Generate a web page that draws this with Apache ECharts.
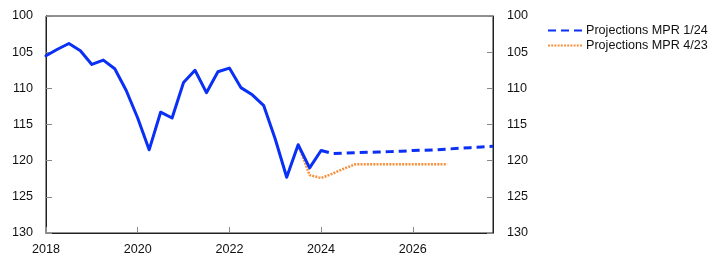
<!DOCTYPE html>
<html>
<head>
<meta charset="utf-8">
<script src="https://cdn.jsdelivr.net/npm/echarts@6/dist/echarts.min.js"></script>
<style>html,body{margin:0;padding:0;background:#fff}#c{width:722px;height:272px}</style>
</head>
<body>
<div id="c"></div>
<script>
// Historical series (quarterly)
var histQuarters = ["2018Q1","2018Q2","2018Q3","2018Q4","2019Q1","2019Q2","2019Q3","2019Q4",
  "2020Q1","2020Q2","2020Q3","2020Q4","2021Q1","2021Q2","2021Q3","2021Q4",
  "2022Q1","2022Q2","2022Q3","2022Q4","2023Q1","2023Q2","2023Q3","2023Q4","2024Q1"];
var histValues = [105.5,104.6,103.8,104.8,106.7,106.1,107.3,110.3,
  114.1,118.5,113.3,114.1,109.2,107.5,110.6,107.7,
  107.2,109.9,110.9,112.4,117.0,122.3,117.8,121.0,118.6];

// Projections MPR 1/24
var mpr124Quarters = ["2024Q1","2024Q2","2024Q3","2024Q4","2025Q1","2025Q2","2025Q3","2025Q4",
  "2026Q1","2026Q2","2026Q3","2026Q4","2027Q1","2027Q2","2027Q3","2027Q4"];
var mpr124Values = [118.6,119.0,118.95,118.9,118.85,118.8,118.75,118.7,
  118.6,118.55,118.5,118.4,118.3,118.2,118.1,118.0];

// Projections MPR 4/23
var mpr423Quarters = ["2023Q3","2023Q4","2024Q1","2024Q2","2024Q3","2024Q4","2025Q1","2025Q2","2025Q3","2025Q4",
  "2026Q1","2026Q2","2026Q3","2026Q4"];
var mpr423Values = [117.8,122.0,122.4,121.8,121.1,120.5,120.5,120.5,120.5,120.5,
  120.5,120.5,120.5,120.5];

var xTickYears = [2018,2020,2022,2024,2026];
var yTicks = [100,105,110,115,120,125,130];

function qx(q){ return parseInt(q.slice(0,4),10) + (parseInt(q.slice(5),10)-1)/4; }
function pairs(qs, vs){ return qs.map(function(q,i){ return [qx(q), vs[i]]; }); }

var font = "Liberation Sans, Arial, Helvetica, sans-serif";
var blue = "#0a2ff5";
var orange = "#f7913d";

function yAxis(pos, margin){
  return {
    type:'value', position:pos, inverse:true,
    min:yTicks[0], max:yTicks[yTicks.length-1], interval:yTicks[1]-yTicks[0],
    axisLine:{show:true, lineStyle:{color:'#222', width:1}},
    axisTick:{show:true, inside:true, length:6, lineStyle:{color:'#888'}},
    axisLabel:{show:true, margin:margin, color:'#111', fontSize:12.6, fontFamily:font},
    splitLine:{show:false}
  };
}

var chart = echarts.init(document.getElementById('c'), null, {renderer:'canvas'});
chart.setOption({
  animation:false,
  backgroundColor:'#fff',
  grid:{left:46, right:229, top:16, bottom:39, show:true, borderColor:'#222', borderWidth:1, containLabel:false},
  legend:{
    orient:'vertical', left:542, top:19, itemWidth:34, itemHeight:14, itemGap:2,
    itemStyle:{opacity:0},
    textStyle:{fontSize:12.6, fontFamily:font, color:'#111', padding:[0,0,0,-1]},
    data:['Projections MPR 1/24','Projections MPR 4/23']
  },
  xAxis:{
    type:'value', min:xTickYears[0], max:2027.75, interval:xTickYears[1]-xTickYears[0],
    axisLine:{show:true, lineStyle:{color:'#222', width:1}},
    axisTick:{show:true, inside:true, length:6, lineStyle:{color:'#888'}},
    axisLabel:{margin:10, color:'#111', fontSize:12.6, fontFamily:font, showMaxLabel:false,
      formatter:function(v){ return (xTickYears.indexOf(v) >= 0) ? String(v) : ''; }},
    splitLine:{show:false}
  },
  yAxis:[yAxis('left',13), yAxis('right',14)],
  series:[
    {name:'Historical', type:'line', data:pairs(histQuarters,histValues), symbol:'none', z:3,
      lineStyle:{color:blue, width:3, cap:'round', join:'round'}, itemStyle:{color:blue}},
    {name:'Projections MPR 1/24', type:'line', data:pairs(mpr124Quarters,mpr124Values), symbol:'none', z:3,
      lineStyle:{color:blue, width:3, type:[8,5]}, itemStyle:{color:blue}},
    {name:'Projections MPR 4/23', type:'line', data:pairs(mpr423Quarters,mpr423Values), symbol:'none', z:2,
      lineStyle:{color:orange, width:2.5, type:[2,1.2]}, itemStyle:{color:orange}}
  ]
});
</script>
</body>
</html>
